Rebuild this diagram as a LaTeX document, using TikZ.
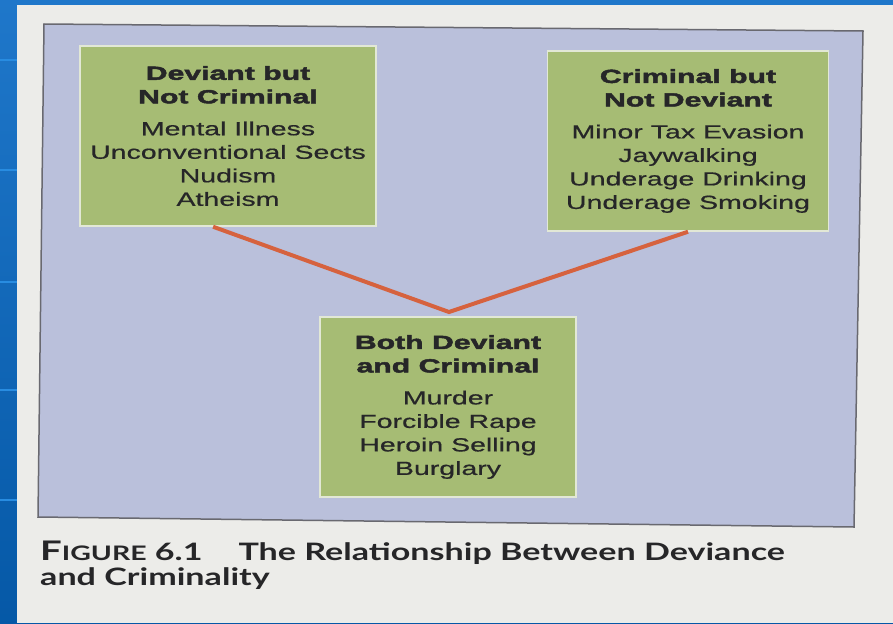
\documentclass[tikz,border=0pt]{standalone}
\usepackage{fontspec}
\usepackage{tikz}
\usetikzlibrary{calc}
\newfontfamily\boxfont[FakeStretch=1.5, FakeBold=0.6]{Liberation Sans}
\newfontfamily\headfont[FakeStretch=1.59, FakeBold=2.5]{Liberation Sans}
\newfontfamily\capfont[FakeStretch=1.42]{Lato}
\newcommand{\hd}{\headfont\bfseries}
\newcommand{\itm}{\boxfont\mdseries}
\definecolor{slideblue}{RGB}{6,104,196}
\definecolor{stripline}{RGB}{40,140,225}
\definecolor{paper}{RGB}{236,236,233}
\definecolor{panel}{RGB}{186,192,219}
\definecolor{paneledge}{RGB}{105,105,112}
\definecolor{boxgreen}{RGB}{166,188,116}
\definecolor{boxedge}{RGB}{226,232,214}
\definecolor{linkred}{RGB}{214,98,62}
\definecolor{inkgray}{RGB}{38,38,40}

\begin{document}
\begin{tikzpicture}[x=1pt, y=-1pt,
  greenbox/.style={fill=boxgreen, draw=boxedge, line width=1.5pt, inner sep=0pt, align=center,
    text=inkgray, font=\boxfont\fontsize{19}{23.5}\selectfont},
  link/.style={draw=linkred, line width=4pt, line join=miter},
  figcap/.style={align=left, text=inkgray, inner sep=0pt, font=\capfont\bfseries\fontsize{24}{25}\selectfont}]
\useasboundingbox (0,0) rectangle (893,623);
\fill[top color=slideblue!90!white, bottom color=slideblue!85!black] (0,0) rectangle (893,623);
\foreach \yy in {60,170,282,390,500}
  \draw[stripline, line width=1.5pt] (0,\yy) -- (17,\yy);
\fill[paper] (17,5) rectangle (893,623);
\filldraw[fill=panel, draw=paneledge, line width=1.5pt] (44,24) -- (863,31) -- (854,527) -- (38,517) -- cycle;

\node[greenbox, minimum width=296pt, minimum height=180pt] (dnc) at (228,136)
  {\hd Deviant but\\\hd Not Criminal\\[8.5pt]\itm Mental Illness\\Unconventional Sects\\Nudism\\Atheism};
\node[greenbox, minimum width=281pt, minimum height=180pt] (cnd) at (688,141)
  {\hd Criminal but\\\hd Not Deviant\\[8.5pt]\itm Minor Tax Evasion\\Jaywalking\\Underage Drinking\\Underage Smoking};
\node[greenbox, minimum width=256pt, minimum height=180pt] (bdc) at (448,407)
  {\hd Both Deviant\\\hd and Criminal\\[8.5pt]\itm Murder\\Forcible Rape\\Heroin Selling\\Burglary};

\coordinate (apex) at (449,312);
\draw[link] ($(dnc.south west)!0.45!(dnc.south east)$) -- (apex) -- ($(cnd.south west)!0.5!(cnd.south east)$);

\node[figcap, anchor=base west] (cap) at (40,585)
  {\fontsize{27}{25}\selectfont F\fontsize{20}{25}\selectfont IGURE\fontsize{24}{25}\selectfont{} 6.1\hspace{36pt}The Relationship Between Deviance\\and Criminality};
\end{tikzpicture}
\end{document}
